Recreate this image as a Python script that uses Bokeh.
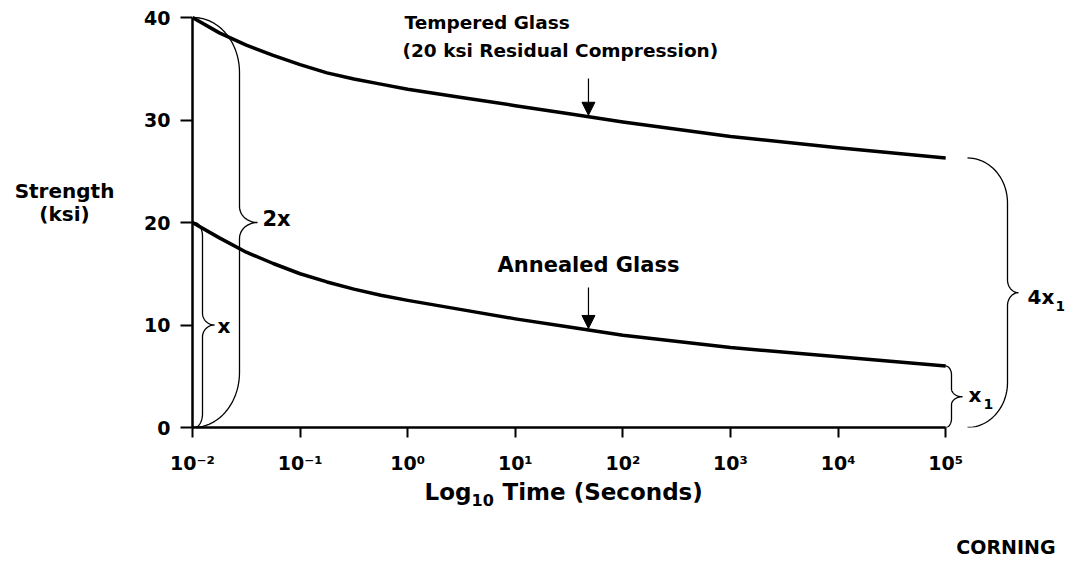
import numpy as np
from bokeh.plotting import figure
from bokeh.layouts import column, row
from bokeh.models import FixedTicker, Label, Arrow, NormalHead, Range1d
from bokeh.embed import file_html
from bokeh.resources import INLINE

# ---------------- data ----------------
log_time = [-2.0, -1.75, -1.5, -1.25, -1.0, -0.75, -0.5, -0.25, 0.0, 0.5,
            1.0, 1.5, 2.0, 3.0, 4.0, 5.0]
tempered_ksi = [40.0, 38.5, 37.3, 36.3, 35.4, 34.6, 34.0, 33.5, 33.0, 32.2,
                31.4, 30.6, 29.8, 28.4, 27.3, 26.3]
annealed_ksi = [20.0, 18.5, 17.1, 16.0, 15.0, 14.2, 13.5, 12.9, 12.4, 11.5,
                10.6, 9.8, 9.0, 7.8, 6.9, 6.0]

x_ticks = [0.01, 0.1, 1, 10, 100, 1000, 10000, 100000]
x_tick_labels = ["10\u207b\u00b2", "10\u207b\u00b9", "10\u2070", "10\u00b9",
                 "10\u00b2", "10\u00b3", "10\u2074", "10\u2075"]
y_ticks = [0, 10, 20, 30, 40]
y_tick_labels = ["0", "10", "20", "30", "40"]
arrow_log_time = 1.68  # where the two label arrows point

time_s = [10 ** v for v in log_time]

# ---------------- layout constants (image pixel coordinates) ----------------
FONT = "DejaVu Sans"
LEFT_W = 128                 # width of the left text panel
MAIN_W, MAIN_H = 940, 476
BOTTOM_H = 89
TOTAL_W = LEFT_W + MAIN_W
LEFT_PX, BOTTOM_PX = 192, 427  # frame left / y=0 line
DEC_PX = 107.6                 # pixels per decade
UNIT_PX = 10.25                # pixels per ksi
FRAME_W, FRAME_H = 872, 418
x_end = 10 ** (-2 + FRAME_W / DEC_PX)
y_end = FRAME_H / UNIT_PX


def X(px):
    return 10 ** (-2 + (px - LEFT_PX) / DEC_PX)


def Y(py):
    return (BOTTOM_PX - py) / UNIT_PX


def py_of(yv):
    return BOTTOM_PX - yv * UNIT_PX


p = figure(width=MAIN_W, height=MAIN_H, x_axis_type="log",
           x_range=Range1d(0.01, x_end), y_range=Range1d(0, y_end),
           output_backend="svg", toolbar_location=None,
           min_border_left=LEFT_PX - LEFT_W, min_border_right=MAIN_W - (LEFT_PX - LEFT_W) - FRAME_W,
           min_border_top=BOTTOM_PX - FRAME_H,
           min_border_bottom=MAIN_H - BOTTOM_PX)
p.xgrid.visible = False
p.ygrid.visible = False
p.outline_line_color = None

# x axis
xa = p.xaxis[0]
xa.ticker = FixedTicker(ticks=x_ticks)
xa.major_label_overrides = {t: l for t, l in zip(x_ticks, x_tick_labels)}
xa.bounds = (x_ticks[0], x_ticks[-1])
xa.minor_tick_line_color = None
xa.major_tick_in = 0
xa.major_tick_out = 10
xa.major_tick_line_width = 2
xa.axis_line_width = 2.5
xa.axis_line_color = "black"
xa.major_tick_line_color = "black"
xa.major_label_text_font = FONT
xa.major_label_text_font_style = "bold"
xa.major_label_text_font_size = "19px"
xa.major_label_text_color = "black"
xa.major_label_standoff = 14

# y axis
ya = p.yaxis[0]
ya.ticker = FixedTicker(ticks=y_ticks)
ya.major_label_overrides = {t: l for t, l in zip(y_ticks, y_tick_labels)}
ya.bounds = (y_ticks[0], y_ticks[-1])
ya.minor_tick_line_color = None
ya.major_tick_in = 0
ya.major_tick_out = 12
ya.major_tick_line_width = 2
ya.axis_line_width = 2.5
ya.axis_line_color = "black"
ya.major_tick_line_color = "black"
ya.major_label_text_font = FONT
ya.major_label_text_font_style = "bold"
ya.major_label_text_font_size = "19px"
ya.major_label_text_color = "black"
ya.major_label_standoff = 10

# curves
p.line(time_s, tempered_ksi, line_width=3.5, line_color="black", line_join="round")
p.line(time_s, annealed_ksi, line_width=3.5, line_color="black", line_join="round")


# ---------------- braces ----------------
def brace(xl, y_top, y_bot, b, w, r1, r2, n=24):
    """Curly brace opening left at image-x xl spanning data y_top..y_bot."""
    yt, yb = py_of(y_top), py_of(y_bot)
    ym = (yt + yb) / 2
    th = np.linspace(0, np.pi / 2, n)
    xs, ys = [], []
    xs += list(xl + b * np.sin(th)); ys += list(yt + r1 * (1 - np.cos(th)))
    xs += list(xl + b + (w - b) * (1 - np.cos(th))); ys += list(ym - r2 * (1 - np.sin(th)))
    th2 = th[::-1]
    xs += list(xl + b + (w - b) * (1 - np.cos(th2))); ys += list(ym + r2 * (1 - np.sin(th2)))
    xs += list(xl + b * np.sin(th2)); ys += list(yb - r1 * (1 - np.cos(th2)))
    return [X(v) for v in xs], [Y(v) for v in ys]


for args in [
    (194, annealed_ksi[0], 0, 8, 20, 14, 12),
    (193, tempered_ksi[0], 0, 46, 64, 55, 16),
    (945, annealed_ksi[-1], 0, 6, 17, 9, 8),
    (967, tempered_ksi[-1], 0, 40, 51, 45, 13),
]:
    bx, by = brace(*args)
    p.line(bx, by, line_width=1.3, line_color="black")


# ---------------- text ----------------
def lab(fig, text, x, y, size=20, align="left"):
    fig.add_layout(Label(x=x, y=y, text=text, text_font=FONT,
                         text_font_style="bold", text_font_size=f"{size}px",
                         text_align=align, text_baseline="middle",
                         text_color="black"))


def mlab(text, px, py, size=20, align="left"):
    lab(p, text, X(px), Y(py), size, align)


mlab("Tempered Glass", 404, 22, 18.5)
mlab("(20 ksi Residual Compression)", 402, 50, 18.5)
mlab("Annealed Glass", 588, 264, 21, align="center")

mlab("2x", 262, 218, 21)
mlab("x", 217, 325, 20)
mlab("x", 968, 394, 20)
mlab("1", 983, 403, 14)
mlab("4x", 1027, 296, 20)
mlab("1", 1055, 305, 14)

# arrows pointing at the curves
t_arrow = 10 ** arrow_log_time
for series, start_py in [(tempered_ksi, 78), (annealed_ksi, 287)]:
    y_hit = float(np.interp(arrow_log_time, log_time, series))
    p.add_layout(Arrow(end=NormalHead(size=13, fill_color="black", line_color="black"),
                       x_start=t_arrow, y_start=Y(start_py),
                       x_end=t_arrow, y_end=y_hit + 0.15,
                       line_width=1.2, line_color="black"))


def text_panel(w, h, top):
    f = figure(width=w, height=h, x_range=Range1d(0, w), y_range=Range1d(top + h, top),
               output_backend="svg", toolbar_location=None,
               x_axis_location=None, y_axis_location=None,
               min_border=0, min_border_left=0, min_border_right=0,
               min_border_top=0, min_border_bottom=0)
    f.xgrid.visible = False
    f.ygrid.visible = False
    f.outline_line_color = None
    return f


# left panel: y-axis title
left = text_panel(LEFT_W, MAIN_H, 0)
lab(left, "Strength", 64, 207, 20, "center")
lab(left, "(ksi)", 64, 233, 20, "center")

# bottom panel: x-axis title and logo
bottom = text_panel(TOTAL_W, BOTTOM_H, MAIN_H)
lab(bottom, "Log", 424, 491, 23)
lab(bottom, "10", 471, 499, 16)
lab(bottom, "Time (Seconds)", 502, 491, 23)
lab(bottom, "CORNING", 1055, 546, 19, "right")

layout = column(row(left, p), bottom)
open("out.html", "w").write(file_html(layout, INLINE))
